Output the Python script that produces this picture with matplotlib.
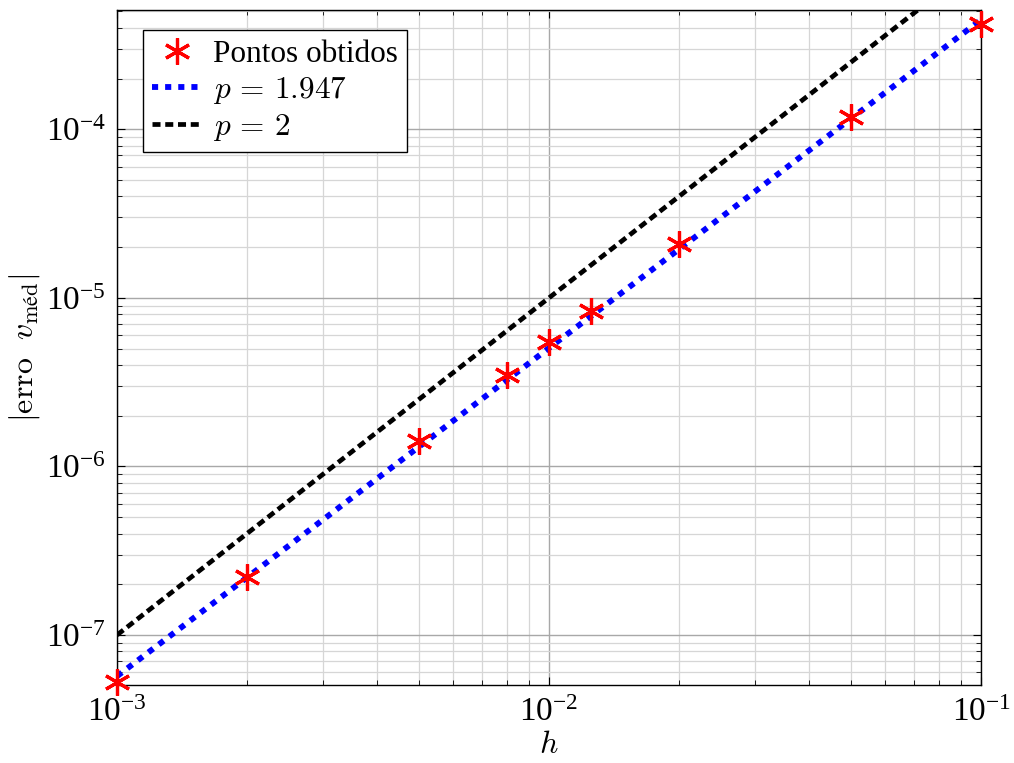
import matplotlib
matplotlib.use("Agg")
import matplotlib.pyplot as plt
import numpy as np
from matplotlib.lines import Line2D

plt.rcParams['mathtext.fontset'] = 'cm'
plt.rcParams['font.family'] = ['Liberation Serif', 'DejaVu Serif']

# Data
h = [0.001, 0.002, 0.005, 0.008, 0.01, 0.0125, 0.02, 0.05, 0.1]
erro = [5.26e-8, 2.21e-7, 1.41e-6, 3.48e-6, 5.46e-6, 8.34e-6, 2.09e-5, 1.18e-4, 4.21e-4]
p_fit = 1.947
C_fit = 0.0395
p_ref = 2.0
C_ref = 0.1
h_line = [0.001, 0.1]
labels = ['Pontos obtidos', r'$p\,=\,1.947$', r'$p\,=\,2$']

BLUE_KW = dict(color='#0000ff', lw=4.2, dashes=(1.05, 1.2), dash_capstyle='butt')
BLACK_KW = dict(color='black', lw=3.4, dashes=(1.7, 1.0), dash_capstyle='butt')
STAR_KW = dict(linestyle='none', marker=(6, 2, 0), markersize=19,
               markeredgewidth=2.3, color='#ff0000')

fig = plt.figure(figsize=(10.14, 7.63), dpi=100)
ax = fig.add_axes([0.1154, 0.1022, 0.8521, 0.8847])
ax.set_xscale('log')
ax.set_yscale('log')

hl = np.array(h_line)
ax.plot(hl, C_ref * hl ** p_ref, zorder=3, **BLACK_KW)
ax.plot(hl, C_fit * hl ** p_fit, zorder=4, **BLUE_KW)
ax.plot(h, erro, zorder=5, clip_on=False, **STAR_KW)

ax.set_xlim(1e-3, 1e-1)
ax.set_ylim(5.05e-8, 5.1e-4)

ax.grid(True, which='major', color='#a8a8a8', lw=1.0)
ax.grid(True, which='minor', color='#d6d6d6', lw=0.9)
ax.set_axisbelow(True)

ax.tick_params(which='both', direction='in', top=True, right=True, labelsize=24)
ax.tick_params(which='major', length=6, width=0.8)
ax.tick_params(which='minor', length=3.5, width=0.6)
for s in ax.spines.values():
    s.set_linewidth(1.0)
ax.xaxis.set_tick_params(pad=9)
ax.yaxis.set_tick_params(pad=8)

ax.set_xlabel(r'$h$', fontsize=23, labelpad=2)
ax.set_ylabel(r'$|\mathrm{erro}\ \ v_{\mathrm{méd}}|$', fontsize=23, labelpad=3)

handles = [
    Line2D([], [], **STAR_KW),
    Line2D([], [], **BLUE_KW),
    Line2D([], [], **BLACK_KW),
]
leg = ax.legend(handles, labels, loc='upper left', bbox_to_anchor=(0.03, 0.97),
                fontsize=22.5, fancybox=False, edgecolor='black', framealpha=1,
                handlelength=1.6, handletextpad=0.35, borderpad=0.3,
                labelspacing=0.2, borderaxespad=0)
leg.get_frame().set_linewidth(1.0)

fig.savefig('out.png', dpi=100)
